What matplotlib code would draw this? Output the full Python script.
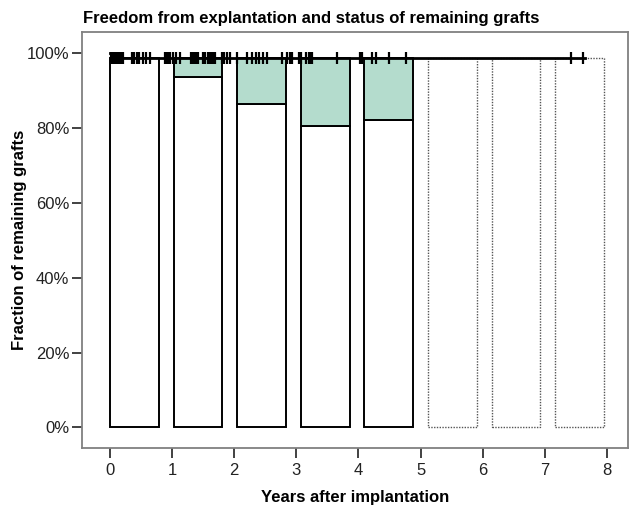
import numpy as np
import matplotlib.pyplot as plt

plt.rcParams['font.family'] = ['Liberation Sans', 'DejaVu Sans']

# yearly intervals after implantation
years = [0, 1, 2, 3, 4, 5, 6, 7]
# share of grafts still in original status (white part of each bar), %
unchanged = [98.7, 93.7, 86.4, 80.6, 82.1, 98.7, 98.7, 98.7]
# share with altered status (green part) up to the survival level
survival_level = 98.7
observed = [True, True, True, True, True, False, False, False]

# Kaplan-Meier freedom from explantation
km_t = [0.0, 0.03, 7.65]
km_s = [100.0, 98.7, 98.7]
# censored grafts (years)
censored = [0.01, 0.03, 0.05, 0.07, 0.09, 0.12, 0.15, 0.18, 0.21,
            0.35, 0.39, 0.43, 0.47, 0.53, 0.58, 0.64,
            0.89, 0.92, 0.95, 0.97, 1.01, 1.06, 1.13,
            1.31, 1.34, 1.37, 1.40, 1.42, 1.50, 1.53, 1.57,
            1.60, 1.63, 1.66, 1.69, 1.80, 1.84, 1.88, 1.93, 2.05,
            2.20, 2.28, 2.35, 2.40, 2.46, 2.53, 2.77, 2.85, 2.90, 2.93,
            3.05, 3.08, 3.15, 3.20, 3.23, 3.26, 3.65,
            4.02, 4.04, 4.06, 4.22, 4.29, 4.49, 4.77, 7.43, 7.62]

green = '#b4dccd'

fig = plt.figure(figsize=(6.32, 5.05), dpi=100)
ax = fig.add_axes([0.1297, 0.1129, 0.8640, 0.8237])

left = np.array(years) * 1.024
w = 0.785
for x, u, obs in zip(left, unchanged, observed):
    if obs:
        ax.bar(x, u, width=w, align='edge', color='white', edgecolor='black', linewidth=1.4, zorder=2)
        ax.bar(x, survival_level - u, bottom=u, width=w, align='edge', color=green,
               edgecolor='black', linewidth=1.4, zorder=2)
    else:
        ax.bar(x, u, width=w, align='edge', color='white', edgecolor='#555555',
               linewidth=1.0, linestyle=(0, (1, 1)), zorder=2)

ax.plot(km_t, km_s, drawstyle='steps-post', color='black', lw=2, zorder=3)
ax.plot(censored, [survival_level] * len(censored), linestyle='none', marker='|',
        ms=8, mew=1.6, color='black', zorder=4)

ax.set_xlim(-0.451, 8.34)
ax.set_ylim(-5.48, 105.7)
ax.set_xticks(range(9))
ax.set_yticks([0, 20, 40, 60, 80, 100])
ax.set_yticklabels(['0%', '20%', '40%', '60%', '80%', '100%'])
ax.tick_params(labelsize=12, length=7, width=1.3, color='#333333', labelcolor='#222222')
ax.tick_params(axis='y', pad=2)

for s in ax.spines.values():
    s.set_color('#808080')
    s.set_linewidth(1.3)

ax.set_xlabel('Years after implantation', fontsize=12, fontweight='bold', labelpad=9)
ax.set_ylabel('Fraction of remaining grafts', fontsize=12, fontweight='bold', labelpad=0)
fig.text(0.1313, 0.963, 'Freedom from explantation and status of remaining grafts',
         fontsize=12, fontweight='bold', va='center', ha='left')

fig.savefig('out.png', dpi=100)
